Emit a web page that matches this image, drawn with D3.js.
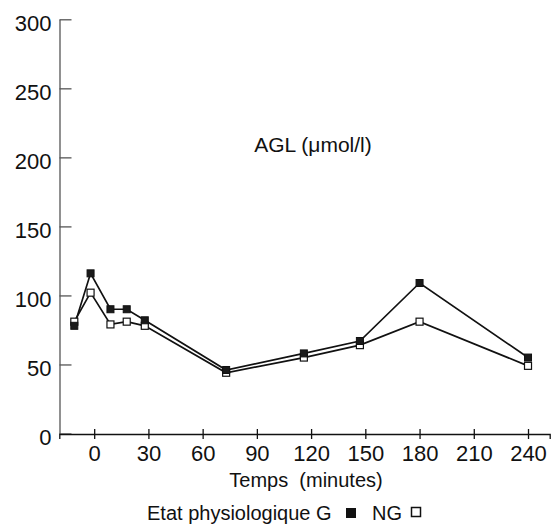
<!DOCTYPE html>
<html><head><meta charset="utf-8">
<script src="https://cdn.jsdelivr.net/npm/d3@7"></script>
<style>html,body{margin:0;padding:0;background:#fff;}svg{display:block;}</style>
</head><body>
<script>
// Data
const times    = [-11, -2, 9, 18, 28, 73, 116, 147, 180, 240];
const valuesG  = [78, 116, 90, 90, 82, 46, 58, 67, 109, 55];
const valuesNG = [81, 102, 79, 81, 78, 44, 55, 64, 81, 49];
const xTicks = [0, 30, 60, 90, 120, 150, 180, 210, 240];
const yTicks = [0, 50, 100, 150, 200, 250, 300];
const yTitle = "AGL (\u03BCmol/l)";
const xTitle = "Temps\u00A0\u00A0(minutes)";
const legendLabel = "Etat physiologique G";
const legendLabel2 = "NG";

const W = 556, H = 527;
const FONT = "'Liberation Sans', Arial, sans-serif";
const svg = d3.select("body").append("svg").attr("width", W).attr("height", H);

const x = d3.scaleLinear().domain([-19.3, 252]).range([59.3, 549.7]);
const y = d3.scaleLinear().domain([0, 300]).range([433.5, 19.3]);

// Y axis
const gy = svg.append("g").attr("transform", "translate(59.5,0)")
  .call(d3.axisLeft(y).tickValues(yTicks).tickSize(-12).tickSizeOuter(0).tickPadding(8));
gy.select(".domain").attr("stroke", "#555").attr("stroke-width", 1.3);
gy.selectAll(".tick line").attr("stroke", "#555").attr("stroke-width", 1.3);
gy.selectAll(".tick text").attr("font-family", FONT).attr("font-size", 22).attr("fill", "#111").attr("dy", "0.52em");

// X axis
const gx = svg.append("g").attr("transform", "translate(0,434)")
  .call(d3.axisBottom(x).tickValues(xTicks).tickSizeOuter(0).tickSize(5));
gx.select(".domain").attr("stroke", "#111").attr("stroke-width", 1.3);
gx.selectAll(".tick line").attr("y1", -5).attr("y2", 5).attr("stroke", "#111").attr("stroke-width", 1.3);
gx.selectAll(".tick text").attr("font-family", FONT).attr("font-size", 22).attr("fill", "#111")
  .attr("y", 27).attr("dy", "0");

// Lines
const line = d3.line().x((d, i) => x(times[i])).y(d => y(d));
svg.append("path").datum(valuesG).attr("d", line).attr("fill", "none").attr("stroke", "#111").attr("stroke-width", 1.7);
svg.append("path").datum(valuesNG).attr("d", line).attr("fill", "none").attr("stroke", "#111").attr("stroke-width", 1.7);

const S = 7;
svg.append("g").selectAll("rect").data(valuesNG).join("rect")
  .attr("x", (d, i) => x(times[i]) - S / 2).attr("y", d => y(d) - S / 2)
  .attr("width", S).attr("height", S).attr("fill", "#fff").attr("stroke", "#111").attr("stroke-width", 1.2);
svg.append("g").selectAll("rect").data(valuesG).join("rect")
  .attr("x", (d, i) => x(times[i]) - S / 2).attr("y", d => y(d) - S / 2)
  .attr("width", S).attr("height", S).attr("fill", "#1a1a1a").attr("stroke", "#111").attr("stroke-width", 1);

// Titles
svg.append("text").attr("x", 313).attr("y", 152).attr("text-anchor", "middle")
  .attr("font-family", FONT).attr("font-size", 21).attr("fill", "#111").text(yTitle);
svg.append("text").attr("x", 306).attr("y", 487).attr("text-anchor", "middle")
  .attr("font-family", FONT).attr("font-size", 20).attr("fill", "#111").text(xTitle);

// Legend
svg.append("text").attr("x", 147).attr("y", 520)
  .attr("font-family", FONT).attr("font-size", 20).attr("fill", "#111").text(legendLabel);
svg.append("rect").attr("x", 346).attr("y", 508).attr("width", 10).attr("height", 10).attr("fill", "#111");
svg.append("text").attr("x", 372).attr("y", 520)
  .attr("font-family", FONT).attr("font-size", 20).attr("fill", "#111").text(legendLabel2);
svg.append("rect").attr("x", 411.5).attr("y", 507.5).attr("width", 9).attr("height", 9)
  .attr("fill", "#fff").attr("stroke", "#111").attr("stroke-width", 1.5);
</script>
</body></html>
